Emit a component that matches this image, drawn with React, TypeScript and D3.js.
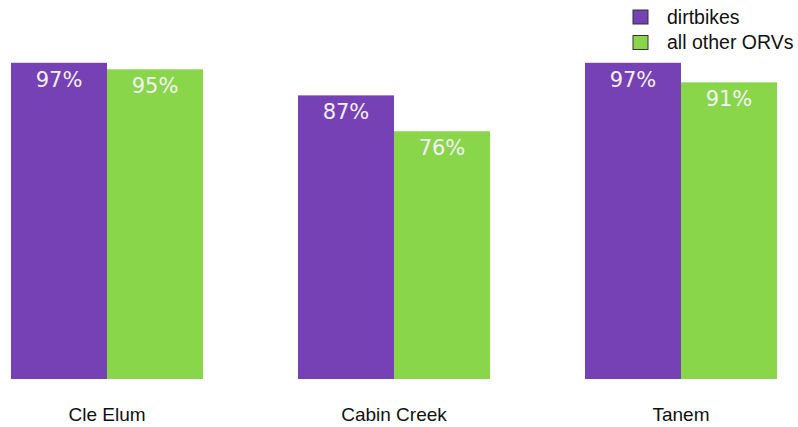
import React from "react";
import * as d3 from "d3";

const categories = ["Cle Elum", "Cabin Creek", "Tanem"];
const seriesNames = ["dirtbikes", "all other ORVs"];
const dirtbikes = [97, 87, 97];
const otherORVs = [95, 76, 91];
const colors = ["#7541b5", "#8ad64b"];

export default function App() {
  const W = 798, H = 427;
  const x0 = d3.scaleBand<string>().domain(categories).range([11, 777]).paddingInner(0.331).paddingOuter(0);
  const x1 = d3.scaleBand<string>().domain(seriesNames).range([0, x0.bandwidth()]).padding(0);
  const y = d3.scaleLinear().domain([0, 100]).range([379, 53]);
  const series = [dirtbikes, otherORVs];
  return (
    <svg width={W} height={H} style={{ position: "absolute", left: 0, top: 0, background: "#fff" }}>
      {categories.map((c, i) => (
        <g key={c} transform={`translate(${x0(c)},0)`}>
          {seriesNames.map((s, j) => {
            const v = series[j][i];
            const bx = x1(s)!;
            const bw = x1.bandwidth();
            return (
              <g key={s}>
                <rect x={bx} y={y(v)} width={bw} height={y(0) - y(v)} fill={colors[j]} />
                <text x={bx + bw / 2} y={y(v) + 24} textAnchor="middle" fill="#f4f0f8"
                  fontFamily="DejaVu Sans" fontSize={21}>{v}%</text>
              </g>
            );
          })}
          <text x={x0.bandwidth() / 2} y={421} textAnchor="middle" fill="#111"
            fontFamily="Liberation Sans" fontSize={19}>{c}</text>
        </g>
      ))}
      {seriesNames.map((s, j) => (
        <g key={s} transform={`translate(633,${10 + j * 25.5})`}>
          <rect x={0} y={0} width={15} height={14} fill={colors[j]} stroke="#333" strokeWidth={1} />
          <text x={34} y={13.5} fill="#111" fontFamily="Liberation Sans" fontSize={19.5}>{s}</text>
        </g>
      ))}
    </svg>
  );
}
